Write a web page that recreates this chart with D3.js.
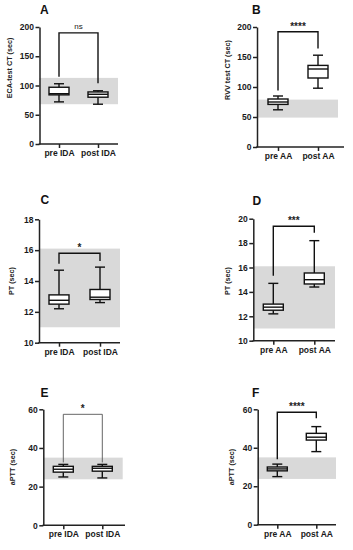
<!DOCTYPE html>
<html lang="en">
<head>
  <meta charset="UTF-8">
  <title>Coagulation box plots</title>
  <script src="https://d3js.org/d3.v7.min.js"></script>
  <style>
    body { margin: 0; background: #fff; }
    svg text { font-family: "Liberation Sans", Arial, sans-serif; }
  </style>
</head>
<body>
  <div id="chart"></div>

  <script>
    // panel data
    const panelIds = ["A", "B", "C", "D", "E", "F"];
    const yLabels = ["ECA-test CT (sec)", "RVV test CT (sec)", "PT (sec)", "PT (sec)", "aPTT (sec)", "aPTT (sec)"];
    const groupsIDA = ["pre IDA", "post IDA"];
    const groupsAA = ["pre AA", "post AA"];
    const yDomains = [[0, 200], [0, 200], [10, 18], [10, 20], [0, 60], [0, 60]];
    const yTicks = [
      [0, 50, 100, 150, 200],
      [0, 50, 100, 150, 200],
      [10, 12, 14, 16, 18],
      [10, 12, 14, 16, 18, 20],
      [0, 20, 40, 60],
      [0, 20, 40, 60]
    ];
    // normal reference ranges (grey band)
    const refRanges = [[68, 113], [49, 79], [11, 16.1], [11, 16.1], [23.8, 35], [23.8, 35]];
    // [min, q1, median, q3, max] for pre / post
    const boxStats = [
      [[72, 84, 86, 97, 103], [68, 80, 85, 89, 91]],
      [[62, 71, 75, 80, 85], [98, 115, 130, 136, 153]],
      [[12.2, 12.5, 12.75, 13.1, 14.7], [12.6, 12.8, 12.95, 13.45, 14.9]],
      [[12.2, 12.5, 12.75, 13.0, 14.7], [14.4, 14.65, 15.0, 15.55, 18.2]],
      [[25, 27.5, 29, 30.5, 31.5], [24.5, 28, 29.5, 30.5, 31.5]],
      [[25, 28, 29, 30, 31.5], [38, 44, 45.5, 47.5, 51]]
    ];
    const sigLabels = ["ns", "****", "*", "***", "*", "****"];
    // bracket: [top, left end, right end]
    const brackets = [
      [190, 115, 104],
      [192, 94, 164],
      [15.8, 15.12, 15.3],
      [19.38, 15.33, 18.85],
      [57.4, 32.5, 32.5],
      [58.5, 34, 55.3]
    ];

    // layout of each panel in pixels
    const layout = [
      { ax: 39.5, axEnd: 118, bandEnd: 118, cats: [59, 98], top: 27, bot: 144, lx: 11.5, ly: 68, tx: 40, ty: 14 },
      { ax: 257, axEnd: 344, bandEnd: 338, cats: [278, 318], top: 27, bot: 147, lx: 229.5, ly: 70, tx: 252, ty: 14 },
      { ax: 39, axEnd: 120, bandEnd: 120, cats: [59, 100], top: 219.3, bot: 342.7, lx: 13.5, ly: 281, tx: 40.5, ty: 204 },
      { ax: 253.3, axEnd: 335, bandEnd: 335, cats: [273.3, 314.3], top: 218.7, bot: 340.7, lx: 229.5, ly: 281, tx: 252.5, ty: 205 },
      { ax: 43.3, axEnd: 125, bandEnd: 122.7, cats: [63.3, 102.3], top: 409.3, bot: 525.3, lx: 14.5, ly: 467, tx: 40.5, ty: 397 },
      { ax: 257.7, axEnd: 336, bandEnd: 336, cats: [277.3, 316.3], top: 409.3, bot: 524.7, lx: 233.5, ly: 467, tx: 252, ty: 397 }
    ];

    const width = 353, height = 550;
    const boxW = 20, capW = 10;

    const svg = d3.select("#chart")
      .append("svg")
      .attr("width", width)
      .attr("height", height);

    panelIds.forEach((id, i) => {
      const L = layout[i];
      const groups = i % 2 === 0 ? groupsIDA : groupsAA;
      const g = svg.append("g");

      const y = d3.scaleLinear().domain(yDomains[i]).range([L.bot, L.top]);
      const x = d3.scalePoint().domain(groups).range(L.cats);

      // reference band
      g.append("rect")
        .attr("x", L.ax)
        .attr("width", L.bandEnd - L.ax)
        .attr("y", y(refRanges[i][1]))
        .attr("height", y(refRanges[i][0]) - y(refRanges[i][1]))
        .attr("fill", "#d9d9d9");

      // y axis
      const yAxis = g.append("g")
        .attr("transform", "translate(" + L.ax + ",0)")
        .call(d3.axisLeft(y).tickValues(yTicks[i]).tickSize(4).tickPadding(1.5).tickSizeOuter(0));
      yAxis.select(".domain").attr("stroke-width", 1.5).attr("stroke", "#222");
      yAxis.selectAll(".tick line").attr("stroke-width", 1.5).attr("stroke", "#222");
      yAxis.selectAll(".tick text")
        .attr("font-size", 8.5).attr("font-weight", "bold").attr("fill", "#1a1a1a")
        .attr("font-family", "Liberation Sans, Arial, sans-serif");

      // x axis
      g.append("line")
        .attr("x1", L.ax - 0.75).attr("x2", L.axEnd)
        .attr("y1", L.bot).attr("y2", L.bot)
        .attr("stroke", "#222").attr("stroke-width", 1.5);
      const xAxis = g.append("g")
        .attr("transform", "translate(0," + L.bot + ")")
        .call(d3.axisBottom(x).tickSize(4).tickPadding(2).tickSizeOuter(0));
      xAxis.select(".domain").remove();
      xAxis.selectAll(".tick line").attr("stroke-width", 1.5).attr("stroke", "#222");
      xAxis.selectAll(".tick text")
        .attr("font-size", 8.5).attr("font-weight", "bold").attr("fill", "#1a1a1a")
        .attr("font-family", "Liberation Sans, Arial, sans-serif");

      // y label
      g.append("text")
        .attr("transform", "translate(" + L.lx + "," + L.ly + ") rotate(-90)")
        .attr("text-anchor", "middle")
        .attr("font-size", 7.2)
        .attr("font-weight", "bold")
        .attr("fill", "#222")
        .text(yLabels[i]);

      // panel letter
      g.append("text")
        .attr("x", L.tx).attr("y", L.ty)
        .attr("font-size", 12)
        .attr("font-weight", "bold")
        .attr("fill", "#111")
        .text(id);

      // boxes
      groups.forEach((grp, j) => {
        const s = boxStats[i][j];
        const cx = x(grp);
        const bg = g.append("g")
          .attr("stroke", "#111")
          .attr("stroke-width", 1.4)
          .attr("fill", "none");
        bg.append("line").attr("x1", cx).attr("x2", cx).attr("y1", y(s[0])).attr("y2", y(s[1]));
        bg.append("line").attr("x1", cx).attr("x2", cx).attr("y1", y(s[3])).attr("y2", y(s[4]));
        bg.append("line").attr("x1", cx - capW / 2).attr("x2", cx + capW / 2).attr("y1", y(s[0])).attr("y2", y(s[0]));
        bg.append("line").attr("x1", cx - capW / 2).attr("x2", cx + capW / 2).attr("y1", y(s[4])).attr("y2", y(s[4]));
        bg.append("rect")
          .attr("x", cx - boxW / 2).attr("width", boxW)
          .attr("y", y(s[3])).attr("height", y(s[1]) - y(s[3]))
          .attr("fill", "#fff");
        bg.append("line").attr("x1", cx - boxW / 2).attr("x2", cx + boxW / 2).attr("y1", y(s[2])).attr("y2", y(s[2]));
      });

      // significance bracket
      const b = brackets[i];
      const x1 = x(groups[0]), x2 = x(groups[1]);
      g.append("path")
        .attr("d", "M" + x1 + "," + y(b[1]) + "V" + y(b[0]) + "H" + x2 + "V" + y(b[2]))
        .attr("fill", "none")
        .attr("stroke", i === 4 ? "#555" : "#111")
        .attr("stroke-width", i === 4 ? 0.9 : 1.4);

      g.append("text")
        .attr("x", (x1 + x2) / 2)
        .attr("y", y(b[0]) - (sigLabels[i] === "ns" ? 4 : 2))
        .attr("text-anchor", "middle")
        .attr("font-size", sigLabels[i] === "ns" ? 8 : 10)
        .attr("font-weight", sigLabels[i] === "ns" ? "normal" : "bold")
        .attr("fill", "#222")
        .text(sigLabels[i]);
    });
  </script>
</body>
</html>
